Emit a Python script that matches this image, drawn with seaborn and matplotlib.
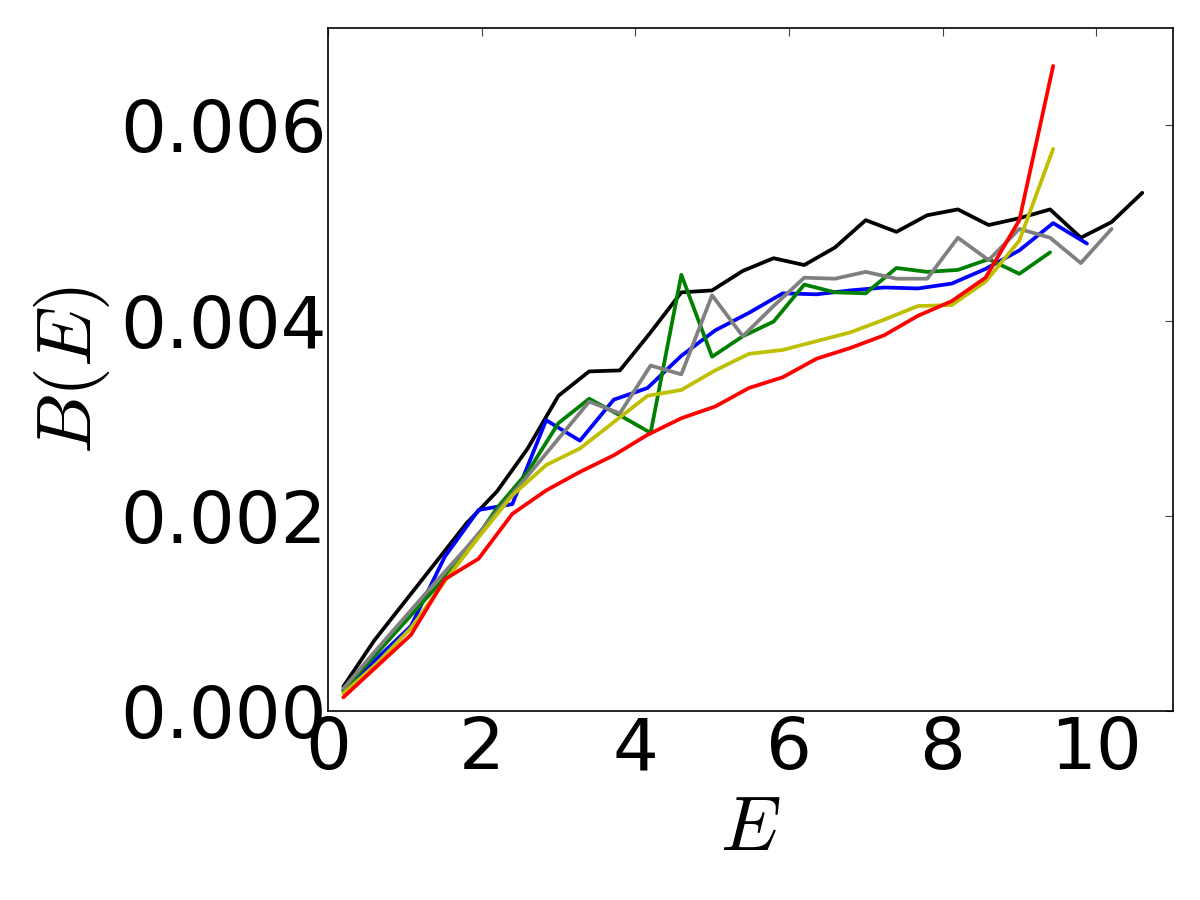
import matplotlib
matplotlib.use("Agg")
import matplotlib.pyplot as plt
import pandas as pd
import seaborn as sns

# energy grids
E_fine = [0.2, 0.6, 1.0, 1.4, 1.8, 2.2, 2.6, 3.0, 3.4, 3.8, 4.2, 4.6, 5.0, 5.4,
          5.8, 6.2, 6.6, 7.0, 7.4, 7.8, 8.2, 8.6, 9.0, 9.4, 9.8, 10.2, 10.6]
E_coarse = [0.20, 0.64, 1.08, 1.52, 1.96, 2.40, 2.84, 3.28, 3.72, 4.16, 4.60, 5.04,
            5.48, 5.92, 6.36, 6.80, 7.24, 7.68, 8.12, 8.56, 9.00, 9.44, 9.88]

# B(E) values (units of 1e-3)
black = [0.25, 0.72, 1.12, 1.52, 1.92, 2.25, 2.69, 3.23, 3.48, 3.49, 3.88, 4.29, 4.31, 4.51,
         4.64, 4.57, 4.75, 5.03, 4.91, 5.08, 5.14, 4.98, 5.05, 5.14, 4.85, 5.01, 5.31]
green = [0.21, 0.56, 0.91, 1.26, 1.62, 2.08, 2.45, 2.95, 3.20, 3.03, 2.85, 4.47, 3.63, 3.84,
         3.99, 4.37, 4.29, 4.28, 4.54, 4.50, 4.52, 4.63, 4.48, 4.70]
grey = [0.23, 0.60, 0.96, 1.32, 1.67, 2.04, 2.41, 2.79, 3.17, 3.05, 3.54, 3.45, 4.26, 3.84,
        4.15, 4.44, 4.43, 4.50, 4.43, 4.43, 4.85, 4.62, 4.94, 4.85, 4.59, 4.94]
red = [0.14, 0.46, 0.78, 1.35, 1.56, 2.02, 2.26, 2.45, 2.62, 2.83, 3.00, 3.12, 3.31, 3.42,
       3.61, 3.72, 3.85, 4.05, 4.20, 4.44, 5.03, 6.61]
yellow = [0.18, 0.49, 0.85, 1.33, 1.78, 2.21, 2.52, 2.69, 2.96, 3.23, 3.29, 3.49, 3.66, 3.70,
          3.79, 3.88, 4.01, 4.15, 4.16, 4.40, 4.82, 5.76]
blue = [0.21, 0.54, 0.87, 1.58, 2.06, 2.12, 2.98, 2.77, 3.19, 3.31, 3.64, 3.90, 4.08, 4.28,
        4.27, 4.31, 4.34, 4.33, 4.38, 4.53, 4.72, 5.00, 4.79]

series = [
    ("black", E_fine, black, "#000000"),
    ("blue", E_coarse, blue, "#0000ff"),
    ("green", E_fine, green, "#008000"),
    ("grey", E_fine, grey, "#808080"),
    ("yellow", E_coarse, yellow, "#bfbf00"),
    ("red", E_coarse, red, "#ff0000"),
]

rows = []
for name, xs, ys, _ in series:
    for x, y in zip(xs, ys):
        rows.append({"E": x, "B": y * 1e-3, "series": name})
df = pd.DataFrame(rows)
palette = {name: c for name, _, _, c in series}
order = [name for name, _, _, _ in series]

sns.set_style("white")
plt.rcParams.update({
    "font.family": ["DejaVu Sans"],
    "mathtext.fontset": "cm",
    "text.color": "black",
    "axes.labelcolor": "black",
    "xtick.color": "black",
    "ytick.color": "black",
    "xtick.direction": "in",
    "ytick.direction": "in",
    "xtick.top": True,
    "ytick.right": True,
    "xtick.major.size": 6,
    "ytick.major.size": 6,
    "xtick.major.width": 0.8,
    "ytick.major.width": 0.8,
    "axes.linewidth": 1.2,
    "axes.edgecolor": "black",
})

fig = plt.figure(figsize=(12, 9), dpi=100)
ax = fig.add_axes([0.2733, 0.21, 0.7042, 0.759])

sns.lineplot(data=df, x="E", y="B", hue="series", hue_order=order, palette=palette,
             estimator=None, sort=False, linewidth=2.7, legend=False, ax=ax)

ax.set_xlim(0, 11)
ax.set_ylim(0, 0.007)
ax.set_xticks([0, 2, 4, 6, 8, 10])
ax.set_yticks([0.000, 0.002, 0.004, 0.006])
ax.set_yticklabels(["0.000", "0.002", "0.004", "0.006"])
ax.tick_params(axis="both", labelsize=52, labelcolor="black", color="#444444")
ax.tick_params(axis="x", pad=3)
ax.tick_params(axis="y", pad=1)
ax.set_xlabel(r"$E$", fontsize=55, labelpad=6)
ax.set_ylabel(r"$B(E)$", fontsize=55, labelpad=6)
for s in ax.spines.values():
    s.set_visible(True)
    s.set_color("black")

fig.savefig("out.png", dpi=100, facecolor="white")
